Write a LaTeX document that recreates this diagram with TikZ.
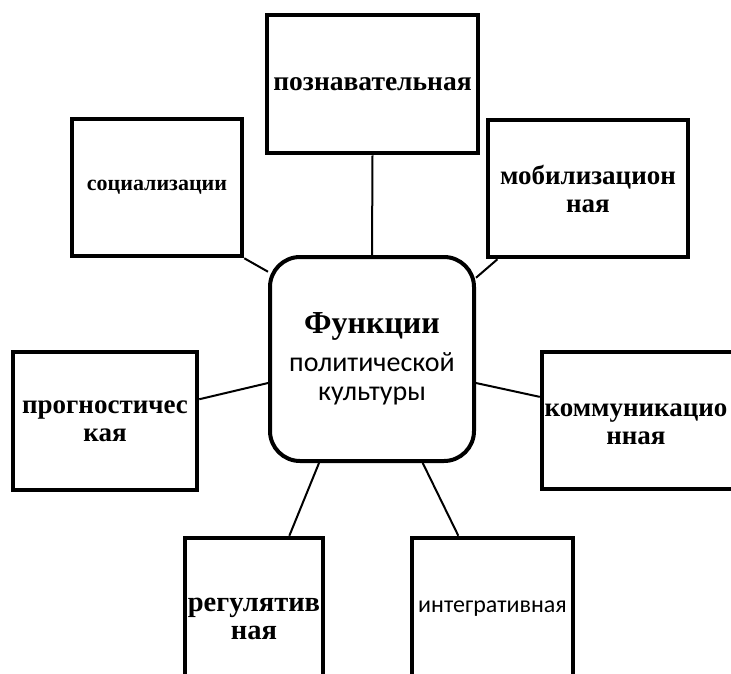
\documentclass[tikz,border=0pt]{standalone}
\usepackage{fontspec}
\setmainfont{Liberation Serif}
\newfontfamily\calib{Carlito}
\usetikzlibrary{backgrounds}

\begin{document}
\begin{tikzpicture}[x=1pt, y=-1pt,
    fbox/.style={draw, line width=4.5pt, fill=white, inner sep=0pt, align=center,
        font=\fontsize{27}{28}\selectfont\bfseries},
    link/.style={line width=2pt}]
    \useasboundingbox (0,0) rectangle (731,673);
    \clip (0,0) rectangle (731,673);

    % Central node
    \node[draw, line width=4pt, fill=white, rounded corners=30pt, minimum width=204pt,
        minimum height=204pt, align=center, font=\calib\fontsize{28}{29}\selectfont]
        (func) at (372,359)
        {\setmainfont{Liberation Serif}\fontsize{32}{29}\selectfont\bfseries Функции\\[9pt]
         политической\\культуры};

    % Function boxes
    \node[fbox, minimum width=211pt, minimum height=138pt, font=\fontsize{27.5}{28}\selectfont\bfseries]
        (poz) at (372.5,84) {познавательная};
    \node[fbox, minimum width=170pt, minimum height=137pt, font=\fontsize{22}{24}\selectfont\bfseries]
        (soc) at (157,187.5) {социализации};
    \node[fbox, minimum width=200pt, minimum height=137pt] (mob) at (588,188.5) {мобилизацион\\ная};
    \node[fbox, minimum width=184pt, minimum height=138pt] (prog) at (105,421) {прогностичес\\кая};
    \node[fbox, minimum width=218pt, minimum height=137pt] (comm) at (651,420.5) {};
    \node[align=center, inner sep=0pt, font=\fontsize{27}{28}\selectfont\bfseries]
        (commtext) at (636,424) {коммуникацио\\нная};
    \node[fbox, minimum width=138pt, minimum height=162pt, font=\fontsize{28.5}{28}\selectfont\bfseries]
        (reg) at (254,619) {регулятив\\ная};
    \node[fbox, minimum width=161pt, minimum height=142pt, font=\calib\fontsize{24}{24}\selectfont]
        (int) at (492.5,609) {интегративная};

    % Connectors
    \begin{scope}[on background layer]
        \draw[link] (poz.south) -- (func.north);
        \draw[link] (soc.south east) -- (func.140.5);
        \draw[link] (mob.218.5) -- (func.38.9);
        \draw[link] (prog.13.4) -- (func.193.9);
        \draw[link] (comm.168.3) -- (func.347);
        \draw[link] (reg.67.8) -- (func.243.9);
        \draw[link] (int.115.3) -- (func.296.6);
    \end{scope}
\end{tikzpicture}
\end{document}
